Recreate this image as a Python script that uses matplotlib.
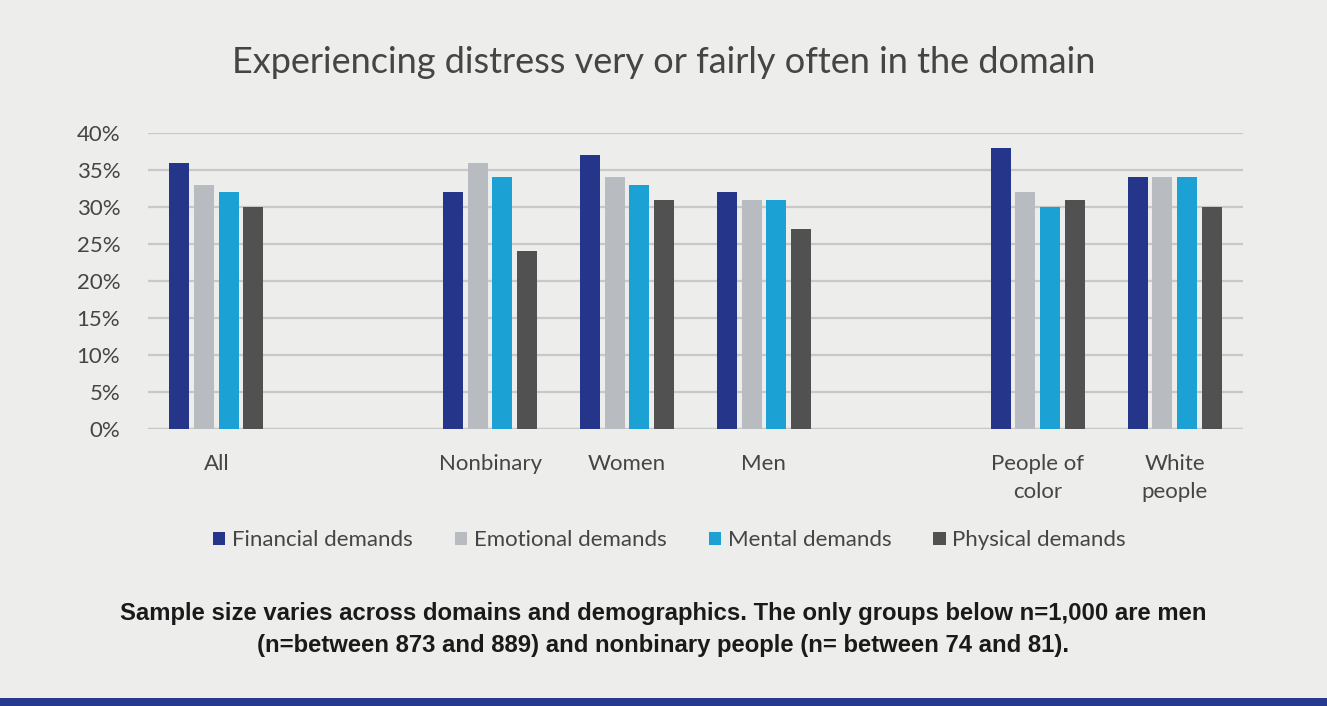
import numpy as np
from matplotlib import pyplot as plt
from matplotlib.patches import Rectangle

# groups along the x axis; empty strings leave a gap between group blocks
groups = ['All', '', 'Nonbinary', 'Women', 'Men', '', 'People of\ncolor', 'White\npeople']
series = ['Financial demands', 'Emotional demands', 'Mental demands', 'Physical demands']
financial = [36, None, 32, 37, 32, None, 38, 34]
emotional = [33, None, 36, 34, 31, None, 32, 34]
mental = [32, None, 34, 33, 31, None, 30, 34]
physical = [30, None, 24, 31, 27, None, 31, 30]
colors = ['#25358A', '#B8BCC0', '#1BA1D4', '#515151']
yticks = [0, 5, 10, 15, 20, 25, 30, 35, 40]

bg = '#EDEDEB'
txt = '#454545'
fig = plt.figure(figsize=(13.27, 7.06), dpi=100, facecolor=bg)
ax = fig.add_axes([0.1115, 0.3924, 0.8252, 0.4192], facecolor=bg)

x = np.arange(len(groups))
width = 0.146
step = 0.18
for i, (name, vals, c) in enumerate(zip(series, [financial, emotional, mental, physical], colors)):
    xs = [xi + (i - 1.5) * step for xi, v in zip(x, vals) if v is not None]
    vs = [v for v in vals if v is not None]
    ax.bar(xs, vs, width, color=c, label=name, zorder=3)

ax.set_xlim(-0.5, len(groups) - 0.5)
ax.set_ylim(0, 40)
ax.set_yticks(yticks)
ax.set_yticklabels([f'{t}%' for t in yticks], fontsize=16, color=txt, family='Lato')
ax.set_xticks(x)
ax.set_xticklabels(groups, fontsize=16, color=txt, family='Lato', linespacing=1.5, va='top')
ax.tick_params(axis='both', length=0)
ax.tick_params(axis='y', pad=20)
ax.tick_params(axis='x', pad=18)
ax.yaxis.grid(True, color='#C8C8C6', lw=1.6, zorder=0)
for s in ax.spines.values():
    s.set_visible(False)
ax.axhline(0, color='#C8C8C6', lw=1.6, zorder=2)

fig.text(0.5, 0.912, 'Experiencing distress very or fairly often in the domain',
         ha='center', va='center', fontsize=26, color=txt, family='Lato')

leg = fig.legend(loc='center', bbox_to_anchor=(0.5045, 0.235), ncol=4, frameon=False,
                 handlelength=0.55, handleheight=0.55, handletextpad=0.3,
                 columnspacing=1.9, prop={'family': 'Lato', 'size': 16})
for t in leg.get_texts():
    t.set_color(txt)

fig.text(0.5, 0.108, 'Sample size varies across domains and demographics. The only groups below n=1,000 are men\n'
         '(n=between 873 and 889) and nonbinary people (n= between 74 and 81).',
         ha='center', va='center', fontsize=17.2, fontweight='bold', color='#1A1A1A',
         family='Liberation Sans', linespacing=1.5)

# band along the bottom edge
fig.add_artist(Rectangle((0, 0), 1, 0.012, transform=fig.transFigure, color='#253A8F', lw=0))

fig.savefig('out.png', dpi=100, facecolor=bg)
